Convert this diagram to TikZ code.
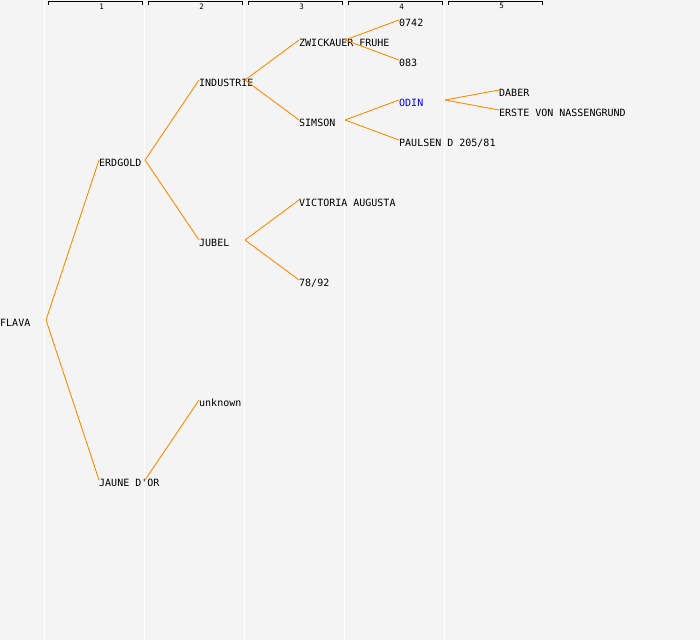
\documentclass[tikz,border=0pt]{standalone}
\usepackage{fontspec}
\setmonofont{DejaVu Sans Mono}
\definecolor{bgc}{HTML}{F4F4F4}
\definecolor{edgec}{HTML}{FF8C00}
\definecolor{odinc}{HTML}{0000FF}
\tikzset{
  lbl/.style={anchor=north west, inner sep=0pt, text height=6pt, text depth=0pt, font=\ttfamily\fontsize{10}{10}\selectfont},
  link/.style={draw=edgec, line width=0.9pt},
  colline/.style={draw=white, line width=1.5pt},
  bracket/.style={draw=black, line width=1pt},
  hdr/.style={inner sep=0pt, font=\ttfamily\fontsize{7.5}{7.5}\selectfont}
}
\begin{document}
\begin{tikzpicture}[x=1pt,y=-1pt]
\fill[bgc] (0,0) rectangle (700,640);
\useasboundingbox (0,0) rectangle (700,640);
% column lines
\foreach \c in {1,...,5} {
  \draw[colline] (\c*100-55.5,0) -- (\c*100-55.5,640);
  \draw[bracket] (\c*100-52,4.5) -- (\c*100-52,1.5) -- (\c*100+42.5,1.5) -- (\c*100+42.5,4.5);
  \node[hdr] (h\c) at (\c*100+1.7,6.3) {\c};
}
% nodes
\node[lbl] (flava) at (0,320) {FLAVA};
\node[lbl] (erdgold) at (99,160) {ERDGOLD};
\node[lbl] (jaune) at (99,480) {JAUNE D'OR};
\node[lbl] (industrie) at (199,80) {INDUSTRIE};
\node[lbl] (jubel) at (199,240) {JUBEL};
\node[lbl] (unknown) at (199,400) {unknown};
\node[lbl] (zwick) at (299,40) {ZWICKAUER FRUHE};
\node[lbl] (simson) at (299,120) {SIMSON};
\node[lbl] (victoria) at (299,200) {VICTORIA AUGUSTA};
\node[lbl] (n7892) at (299,280) {78/92};
\node[lbl] (n0742) at (399,20) {0742};
\node[lbl] (n083) at (399,60) {083};
\node[lbl, text=odinc] (odin) at (399,100) {ODIN};
\node[lbl] (paulsen) at (399,140) {PAULSEN D 205/81};
\node[lbl] (daber) at (499,90) {DABER};
\node[lbl] (erste) at (499,110) {ERSTE VON NASSENGRUND};
% edges
\foreach \a/\b in {flava/erdgold, flava/jaune, erdgold/industrie, erdgold/jubel,
  jaune/unknown, industrie/zwick, industrie/simson, jubel/victoria, jubel/n7892,
  zwick/n0742, zwick/n083, simson/odin, simson/paulsen, odin/daber, odin/erste} {
  \draw[link] ([xshift=46pt]\a.north west) -- (\b.north west);
}
\end{tikzpicture}
\end{document}
